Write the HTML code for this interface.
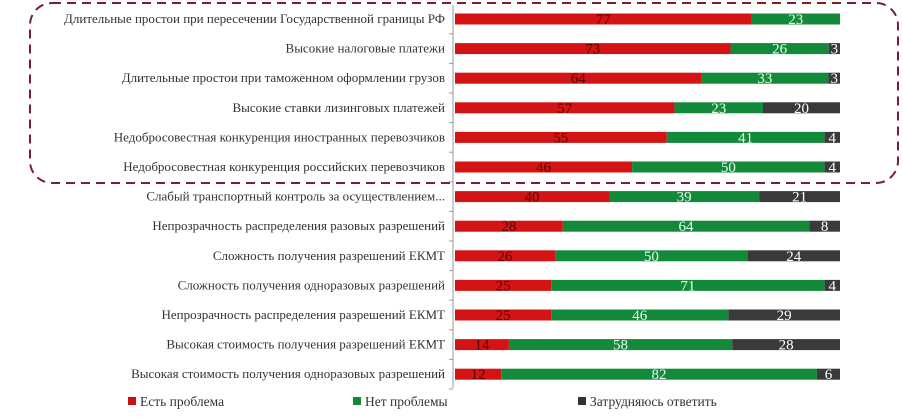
<!DOCTYPE html>
<html><head><meta charset="utf-8">
<style>
body{margin:0;background:#fff;width:903px;height:415px;overflow:hidden;font-family:"Liberation Serif",serif;}
svg text{font-family:"Liberation Serif",serif;}
</style></head>
<body>
<svg id="chart" width="903" height="415" xmlns="http://www.w3.org/2000/svg">
<rect x="30" y="3" width="868" height="180" rx="22" fill="none" stroke="#7a1f2e" stroke-width="2" stroke-dasharray="9,6"/>
<line x1="453" y1="5" x2="453" y2="388" stroke="#999" stroke-width="1"/>
<g id="bars"></g>
<g>
<rect x="128" y="397" width="8" height="8" fill="#cc1111"/>
<text x="140" y="406" font-size="13.5" fill="#333">Есть проблема</text>
<rect x="353" y="397" width="8" height="8" fill="#138a3a"/>
<text x="365" y="406" font-size="13.5" fill="#333">Нет проблемы</text>
<rect x="578" y="397" width="8" height="8" fill="#333"/>
<text x="590" y="406" font-size="13.5" fill="#333">Затрудняюсь ответить</text>
</g>
</svg>
<script>
const categories=["Длительные простои при пересечении Государственной границы РФ","Высокие налоговые платежи","Длительные простои при таможенном оформлении грузов","Высокие ставки лизинговых платежей","Недобросовестная конкуренция иностранных перевозчиков","Недобросовестная конкуренция российских перевозчиков","Слабый транспортный контроль за осуществлением...","Непрозрачность распределения разовых разрешений","Сложность получения разрешений ЕКМТ","Сложность получения одноразовых разрешений","Непрозрачность распределения разрешений ЕКМТ","Высокая стоимость получения разрешений ЕКМТ","Высокая стоимость получения одноразовых разрешений"];
const problem=[77,73,64,57,55,46,40,28,26,25,25,14,12];
const noProblem=[23,26,33,23,41,50,39,64,50,71,46,58,82];
const unsure=[0,3,3,20,4,4,21,8,24,4,29,28,6];
const colors=["#d41414","#138a3a","#3a3a3a"];
const textColors=["#5a0000","#e8fff0","#ffffff"];
const x0=455, fullW=385, y0=19, step=29.6, bh=11;
const ys=i=>y0+i*step;
const g=document.getElementById('bars');
const ns="http://www.w3.org/2000/svg";
categories.forEach((c,i)=>{
  const y=ys(i);
  const t=document.createElementNS(ns,'text');
  
  
  t.setAttribute('x',445);t.setAttribute('y',y+4);t.setAttribute('text-anchor','end');
  t.setAttribute('font-size','13');t.setAttribute('fill','#333');t.textContent=c;g.appendChild(t);
  const tk=document.createElementNS(ns,'line');
  
  
  tk.setAttribute('x1',449);tk.setAttribute('x2',453);tk.setAttribute('y1',y+step/2);tk.setAttribute('y2',y+step/2);tk.setAttribute('stroke','#999');g.appendChild(tk);
  const vals=[problem[i],noProblem[i],unsure[i]];
  const total=Math.max(100,vals[0]+vals[1]+vals[2]);
  const xs=v=>v/total*fullW;
  let x=x0;
  vals.forEach((v,s)=>{
    if(v<=0)return;
    const r=document.createElementNS(ns,'rect');
    
    
    r.setAttribute('x',x);r.setAttribute('y',y-bh/2);r.setAttribute('width',xs(v));r.setAttribute('height',bh);r.setAttribute('fill',colors[s]);g.appendChild(r);
    const l=document.createElementNS(ns,'text');
    
    
    l.setAttribute('x',x+xs(v)/2);l.setAttribute('y',y+5);l.setAttribute('text-anchor','middle');
    l.setAttribute('font-size','15');l.setAttribute('fill',textColors[s]);l.textContent=v;g.appendChild(l);
    x+=xs(v);
  });
});
</script>
</body></html>
